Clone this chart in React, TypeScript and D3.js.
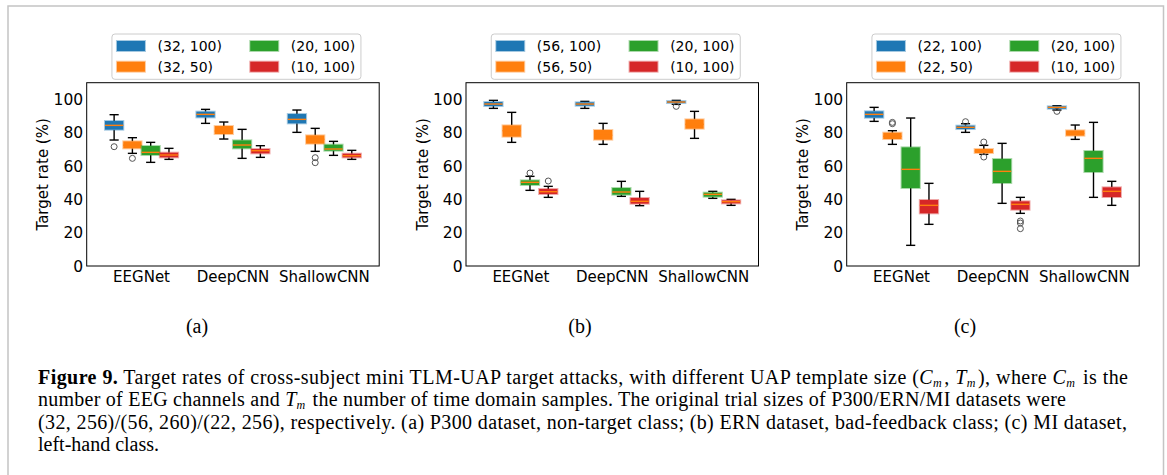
import React from "react";
import * as d3 from "d3";

// Five-number summaries per model: [whiskerLow, q1, median, q3, whiskerHigh]
const models = ["EEGNet", "DeepCNN", "ShallowCNN"];
const colors = ["#1f77b4", "#ff7f0e", "#2ca02c", "#d62728"];
const yTicks = [0, 20, 40, 60, 80, 100];

// (a) P300 dataset, non-target class
const p300Labels = ["(32, 100)", "(32, 50)", "(20, 100)", "(10, 100)"];
const p300Stats = [
  [[75.6, 81.8, 84.4, 87, 90.8], [85.6, 89.2, 91, 92.6, 94], [80.2, 85.6, 88, 91.2, 93.6]],
  [[67.6, 70.6, 72.5, 74.8, 77], [76.2, 79.2, 81, 84, 86.4], [68.8, 73.4, 76, 78.4, 82.6]],
  [[62.2, 66.6, 68.2, 72, 74.2], [64.6, 70.6, 72.6, 75.4, 82], [66.4, 69.2, 70.2, 72.8, 74.8]],
  [[64, 65.2, 66.6, 68, 70.6], [65.2, 67.6, 69.2, 70.2, 72.2], [64, 65.2, 66.2, 67.4, 69.4]],
];
const p300Fliers = [
  [[71.6], [], []],
  [[64.6], [], [65, 62]],
  [[], [], []],
  [[], [], []],
];

// (b) ERN dataset, bad-feedback class
const ernLabels = ["(56, 100)", "(56, 50)", "(20, 100)", "(10, 100)"];
const ernStats = [
  [[94.6, 96, 97.2, 98.4, 99.4], [94.6, 96.2, 97.2, 98.2, 98.8], [97, 97.8, 98.4, 99, 99.4]],
  [[74.2, 77.6, 81.2, 84.4, 92.2], [73, 75.8, 78.4, 81.6, 85.6], [76.6, 82.4, 85, 88, 92.8]],
  [[45.4, 48.6, 50.2, 51.4, 53.8], [41.8, 42.8, 44.4, 46.8, 50.8], [40.6, 41.6, 43, 44, 44.8]],
  [[41.2, 43.2, 44.6, 46.2, 47.8], [36.2, 37.4, 38.8, 40.8, 44.8], [36.4, 37.6, 38.6, 39.4, 40]],
];
const ernFliers = [
  [[], [], [95.8]],
  [[], [], []],
  [[55.8], [], []],
  [[51], [], []],
];

// (c) MI dataset, left-hand class
const miLabels = ["(22, 100)", "(22, 50)", "(20, 100)", "(10, 100)"];
const miStats = [
  [[86.8, 89, 91, 92.8, 95.2], [80.2, 82.2, 83.2, 84.2, 85.4], [93.6, 94.4, 95.2, 95.8, 96.2]],
  [[73, 76.2, 77.8, 80, 81.2], [67, 67.8, 69, 70.2, 72.4], [76, 78.2, 79.6, 81.4, 84.6]],
  [[12.4, 46.8, 58, 71.2, 88.8], [37.6, 49.8, 56.8, 64.2, 73.6], [41.2, 56.4, 64.6, 69, 86.2]],
  [[25, 31.6, 36.4, 39.6, 49.6], [31.6, 33.8, 37, 38.8, 41.2], [36.4, 41.4, 44.8, 47.2, 50.8]],
];
const miFliers = [
  [[], [86.6], [92.8]],
  [[86.2, 85.4], [74.4, 65.4], []],
  [[], [], []],
  [[], [27, 25.8, 22.4], []],
];

const panelTags = ["(a)", "(b)", "(c)"];

const panels = [
  { left: 86.7, tagX: 197, labels: p300Labels, stats: p300Stats, fliers: p300Fliers },
  { left: 466, tagX: 580, labels: ernLabels, stats: ernStats, fliers: ernFliers },
  { left: 846.7, tagX: 965, labels: miLabels, stats: miStats, fliers: miFliers },
];

const PLOT_W = 292.5;
const PLOT_TOP = 82.7;
const PLOT_BOTTOM = 266;
const offsets = [-0.3, -0.1, 0.1, 0.3];
const axisFont = "'DejaVu Sans', sans-serif";
const serif = "'Liberation Serif', 'DejaVu Serif', serif";

function Panel({ left, tagX, labels, stats, fliers, tag }) {
  const x = d3.scaleLinear().domain([0.4, 3.6]).range([left, left + PLOT_W]);
  const y = d3.scaleLinear().domain([0, 110]).range([PLOT_BOTTOM, PLOT_TOP]);
  const boxW = x(0.2) - x(0);
  const capW = boxW / 2;
  const cx = left + PLOT_W / 2;
  const legW = 249;
  const legL = cx + 3.5 - legW / 2;

  return (
    <g>
      {stats.map((series, s) =>
        series.map((st, m) => {
          const [lo, q1, med, q3, hi] = st;
          const xc = x(m + 1 + offsets[s]);
          return (
            <g key={`${s}-${m}`}>
              <line x1={xc} x2={xc} y1={y(hi)} y2={y(q3)} stroke="#000" strokeWidth={1.4} />
              <line x1={xc} x2={xc} y1={y(q1)} y2={y(lo)} stroke="#000" strokeWidth={1.4} />
              <line x1={xc - capW / 2} x2={xc + capW / 2} y1={y(hi)} y2={y(hi)} stroke="#000" strokeWidth={1.4} />
              <line x1={xc - capW / 2} x2={xc + capW / 2} y1={y(lo)} y2={y(lo)} stroke="#000" strokeWidth={1.4} />
              <rect
                x={xc - boxW / 2}
                y={y(q3)}
                width={boxW}
                height={Math.max(0.5, y(q1) - y(q3))}
                fill={colors[s]}
                stroke={colors[s]}
                strokeOpacity={0.4}
                strokeWidth={2}
              />
              <line x1={xc - boxW / 2} x2={xc + boxW / 2} y1={y(med)} y2={y(med)} stroke="#ff7f0e" strokeWidth={1.4} />
              {fliers[s][m].map((f, k) => (
                <circle key={k} cx={xc} cy={y(f)} r={3} fill="none" stroke="#555" strokeWidth={1} />
              ))}
            </g>
          );
        })
      )}
      <rect x={left} y={PLOT_TOP} width={PLOT_W} height={PLOT_BOTTOM - PLOT_TOP} fill="none" stroke="#000" strokeWidth={1} />
      {yTicks.map((t) => (
        <text key={t} x={left - 3.5} y={y(t)} dy="0.36em" textAnchor="end" fontFamily={axisFont} fontSize={15.5} fill="#000">
          {t}
        </text>
      ))}
      {models.map((mName, i) => (
        <text key={mName} x={x(i + 1)} y={282} textAnchor="middle" fontFamily={axisFont} fontSize={15} fill="#000">
          {mName}
        </text>
      ))}
      <text
        transform={`translate(${left - 43.5},${(PLOT_TOP + PLOT_BOTTOM) / 2}) rotate(-90)`}
        textAnchor="middle"
        dy="0.35em"
        fontFamily={axisFont}
        fontSize={15}
        fill="#000"
      >
        Target rate (%)
      </text>
      {/* legend */}
      <rect x={legL} y={34} width={legW} height={45.3} rx={3} fill="#fff" fillOpacity={0.8} stroke="#ccc" strokeWidth={1} />
      {labels.map((lab, s) => {
        const col = Math.floor(s / 2);
        const row = s % 2;
        const px = legL + 5 + col * 133.3;
        const py = row === 0 ? 46 : 66.7;
        return (
          <g key={lab}>
            <rect x={px} y={py - 5} width={28} height={10} fill={colors[s]} stroke={colors[s]} strokeOpacity={0.4} strokeWidth={2} />
            <text x={px + 40.6} y={py} dy="0.36em" fontFamily={axisFont} fontSize={14} fill="#000">
              {lab}
            </text>
          </g>
        );
      })}
      <text x={tagX} y={333} textAnchor="middle" fontFamily={serif} fontSize={20} fill="#000">
        {tag}
      </text>
    </g>
  );
}

function Sub({ c }) {
  return (
    <>
      <tspan fontStyle="italic">{c}</tspan>
      <tspan fontStyle="italic" fontSize={12} dy={3}>m</tspan>
      <tspan dy={-3}>{"\u200a"}</tspan>
    </>
  );
}

export default function App() {
  const capX = 38;
  return (
    <svg
      width={1167}
      height={475}
      style={{ position: "absolute", left: 0, top: 0, background: "#fff" }}
      xmlns="http://www.w3.org/2000/svg"
    >
      <rect x={0} y={0} width={1167} height={475} fill="#fff" />
      <path d="M8,490 L8,6 L1163.5,6 L1163.5,490" fill="none" stroke="#c4c4c4" strokeWidth={1.5} />
      {panels.map((p, i) => (
        <Panel key={i} {...p} tag={panelTags[i]} />
      ))}
      <g fontFamily={serif} fontSize={20} fill="#000">
        <text x={capX} y={384} textLength={1090} lengthAdjust="spacing">
          <tspan fontWeight="bold">Figure 9.</tspan>
          <tspan> Target rates of cross-subject mini TLM-UAP target attacks, with different UAP template size (</tspan>
          <Sub c="C" />
          <tspan>, </tspan>
          <Sub c="T" />
          <tspan>), where </tspan>
          <Sub c="C" />
          <tspan> is the</tspan>
        </text>
        <text x={capX} y={406.3} textLength={1028} lengthAdjust="spacing">
          <tspan>number of EEG channels and </tspan>
          <Sub c="T" />
          <tspan> the number of time domain samples. The original trial sizes of P300/ERN/MI datasets were</tspan>
        </text>
        <text x={capX} y={428.6} textLength={1089} lengthAdjust="spacing">
          (32, 256)/(56, 260)/(22, 256), respectively. (a) P300 dataset, non-target class; (b) ERN dataset, bad-feedback class; (c) MI dataset,
        </text>
        <text x={capX} y={451}>
          left-hand class.
        </text>
      </g>
    </svg>
  );
}
